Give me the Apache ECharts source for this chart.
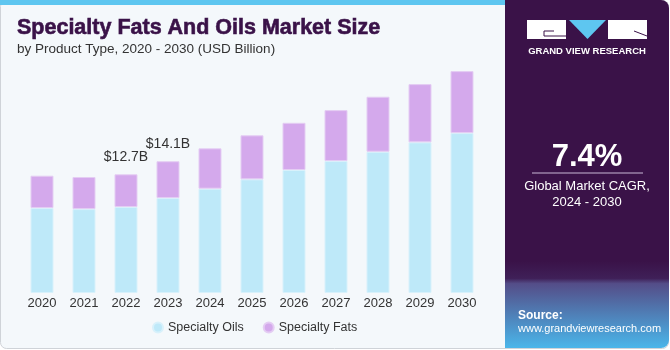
<!DOCTYPE html>
<html>
<head>
<meta charset="utf-8">
<script src="https://cdn.jsdelivr.net/npm/echarts@6/dist/echarts.min.js"></script>
<style>
  html, body { margin: 0; padding: 0; background: #fff; }
  #chart { width: 670px; height: 350px; }
</style>
</head>
<body>
<div id="chart"></div>
<script>
// values (USD billion)
const years = ['2020', '2021', '2022', '2023', '2024', '2025', '2026', '2027', '2028', '2029', '2030'];
const specialtyOils = [9.09, 8.98, 9.20, 10.16, 11.16, 12.16, 13.16, 14.12, 15.11, 16.12, 17.11];
const specialtyFats = [3.46, 3.43, 3.50, 3.94, 4.32, 4.71, 5.05, 5.45, 5.89, 6.23, 6.63];
const totalLabels = { 2: '$12.7B', 3: '$14.1B' };

const font = '"Liberation Sans", Arial, sans-serif';
const chart = echarts.init(document.getElementById('chart'));

const option = {
  backgroundColor: '#ffffff',
  animation: false,
  grid: { left: 21, right: 187, top: 50, bottom: 57 },
  legend: {
    bottom: 11,
    left: 147,
    icon: 'circle',
    itemWidth: 10,
    itemHeight: 10,
    itemGap: 19,
    textStyle: { color: '#333', fontSize: 12.5, fontFamily: font },
    data: ['Specialty Oils', 'Specialty Fats']
  },
  xAxis: {
    type: 'category',
    data: years,
    axisLine: { show: false },
    axisTick: { show: false },
    axisLabel: { color: '#333', fontSize: 13, fontFamily: font, margin: 4 }
  },
  yAxis: {
    type: 'value',
    min: 0,
    max: 26,
    show: false,
    splitLine: { show: false }
  },
  graphic: [
    // page frame
    { type: 'rect', z: -10, shape: { x: 0.5, y: 0.5, width: 668, height: 348, r: 6 },
      style: { fill: '#f4f8fb', stroke: '#cfd3d8', lineWidth: 1 } },
    { type: 'rect', z: -9, shape: { x: 0, y: 0, width: 506, height: 5 }, style: { fill: '#5ec6f0' } },
    // right panel
    { type: 'rect', z: -8, shape: { x: 505, y: 0, width: 164, height: 348, r: [0, 8, 8, 0] },
      style: { fill: new echarts.graphic.LinearGradient(0, 0, 0, 1, [
        { offset: 0, color: '#3a1248' },
        { offset: 0.75, color: '#3a1248' },
        { offset: 0.8, color: '#3f2058' },
        { offset: 0.815, color: '#544d88' },
        { offset: 1, color: '#4ab6ea' }
      ]) } },
    // logo
    { type: 'rect', shape: { x: 527, y: 20, width: 39, height: 19 }, style: { fill: '#ffffff' } },
    { type: 'polyline', shape: { points: [[554, 31], [544, 31], [544, 36], [566, 36]] }, style: { stroke: '#3a1248', lineWidth: 1, fill: null } },
    { type: 'polygon', shape: { points: [[569, 20], [606, 20], [587.5, 39]] }, style: { fill: '#5ec6f0' } },
    { type: 'rect', shape: { x: 608, y: 20, width: 39, height: 19 }, style: { fill: '#ffffff' } },
    { type: 'line', shape: { x1: 634, y1: 31, x2: 647, y2: 36 }, style: { stroke: '#3a1248', lineWidth: 1 } },
    { type: 'text', style: { text: 'GRAND VIEW RESEARCH', x: 587, y: 51, align: 'center', verticalAlign: 'middle',
      fill: '#ffffff', font: 'bold 9.5px ' + font } },
    // CAGR
    { type: 'text', style: { text: '7.4%', x: 587, y: 157, align: 'center', verticalAlign: 'middle',
      fill: '#ffffff', font: 'bold 31px ' + font } },
    { type: 'line', shape: { x1: 532, y1: 173, x2: 643, y2: 173 }, style: { stroke: '#c9b8d6', lineWidth: 1 } },
    { type: 'text', style: { text: 'Global Market CAGR,', x: 587, y: 186, align: 'center', verticalAlign: 'middle',
      fill: '#ffffff', font: '13px ' + font } },
    { type: 'text', style: { text: '2024 - 2030', x: 587, y: 202, align: 'center', verticalAlign: 'middle',
      fill: '#ffffff', font: '13px ' + font } },
    // source
    { type: 'text', style: { text: 'Source:', x: 518, y: 316, align: 'left', verticalAlign: 'middle',
      fill: '#ffffff', font: 'bold 12px ' + font } },
    { type: 'text', style: { text: 'www.grandviewresearch.com', x: 518, y: 329, align: 'left', verticalAlign: 'middle',
      fill: '#ffffff', font: '11px ' + font } },
    // titles
    { type: 'text', style: { text: 'Specialty Fats And Oils Market Size', x: 17, y: 28, align: 'left', verticalAlign: 'middle',
      fill: '#3a1248', stroke: '#3a1248', lineWidth: 0.6, font: 'bold 21.5px ' + font } },
    { type: 'text', style: { text: 'by Product Type, 2020 - 2030 (USD Billion)', x: 17, y: 49, align: 'left', verticalAlign: 'middle',
      fill: '#333333', font: '13.5px ' + font } }
  ],
  series: [
    {
      name: 'Specialty Oils',
      type: 'bar',
      stack: 'total',
      barWidth: 23,
      data: specialtyOils,
      itemStyle: { color: '#bee9f9', borderColor: '#d8f1fb', borderWidth: 1 }
    },
    {
      name: 'Specialty Fats',
      type: 'bar',
      stack: 'total',
      barWidth: 23,
      data: specialtyFats,
      itemStyle: { color: '#d4a9ec', borderColor: '#e4cdf3', borderWidth: 1 },
      label: {
        show: true,
        position: 'top',
        distance: 10,
        color: '#333',
        fontSize: 14,
        fontFamily: font,
        formatter: (p) => totalLabels[p.dataIndex] || ''
      }
    }
  ]
};

chart.setOption(option);
</script>
</body>
</html>
